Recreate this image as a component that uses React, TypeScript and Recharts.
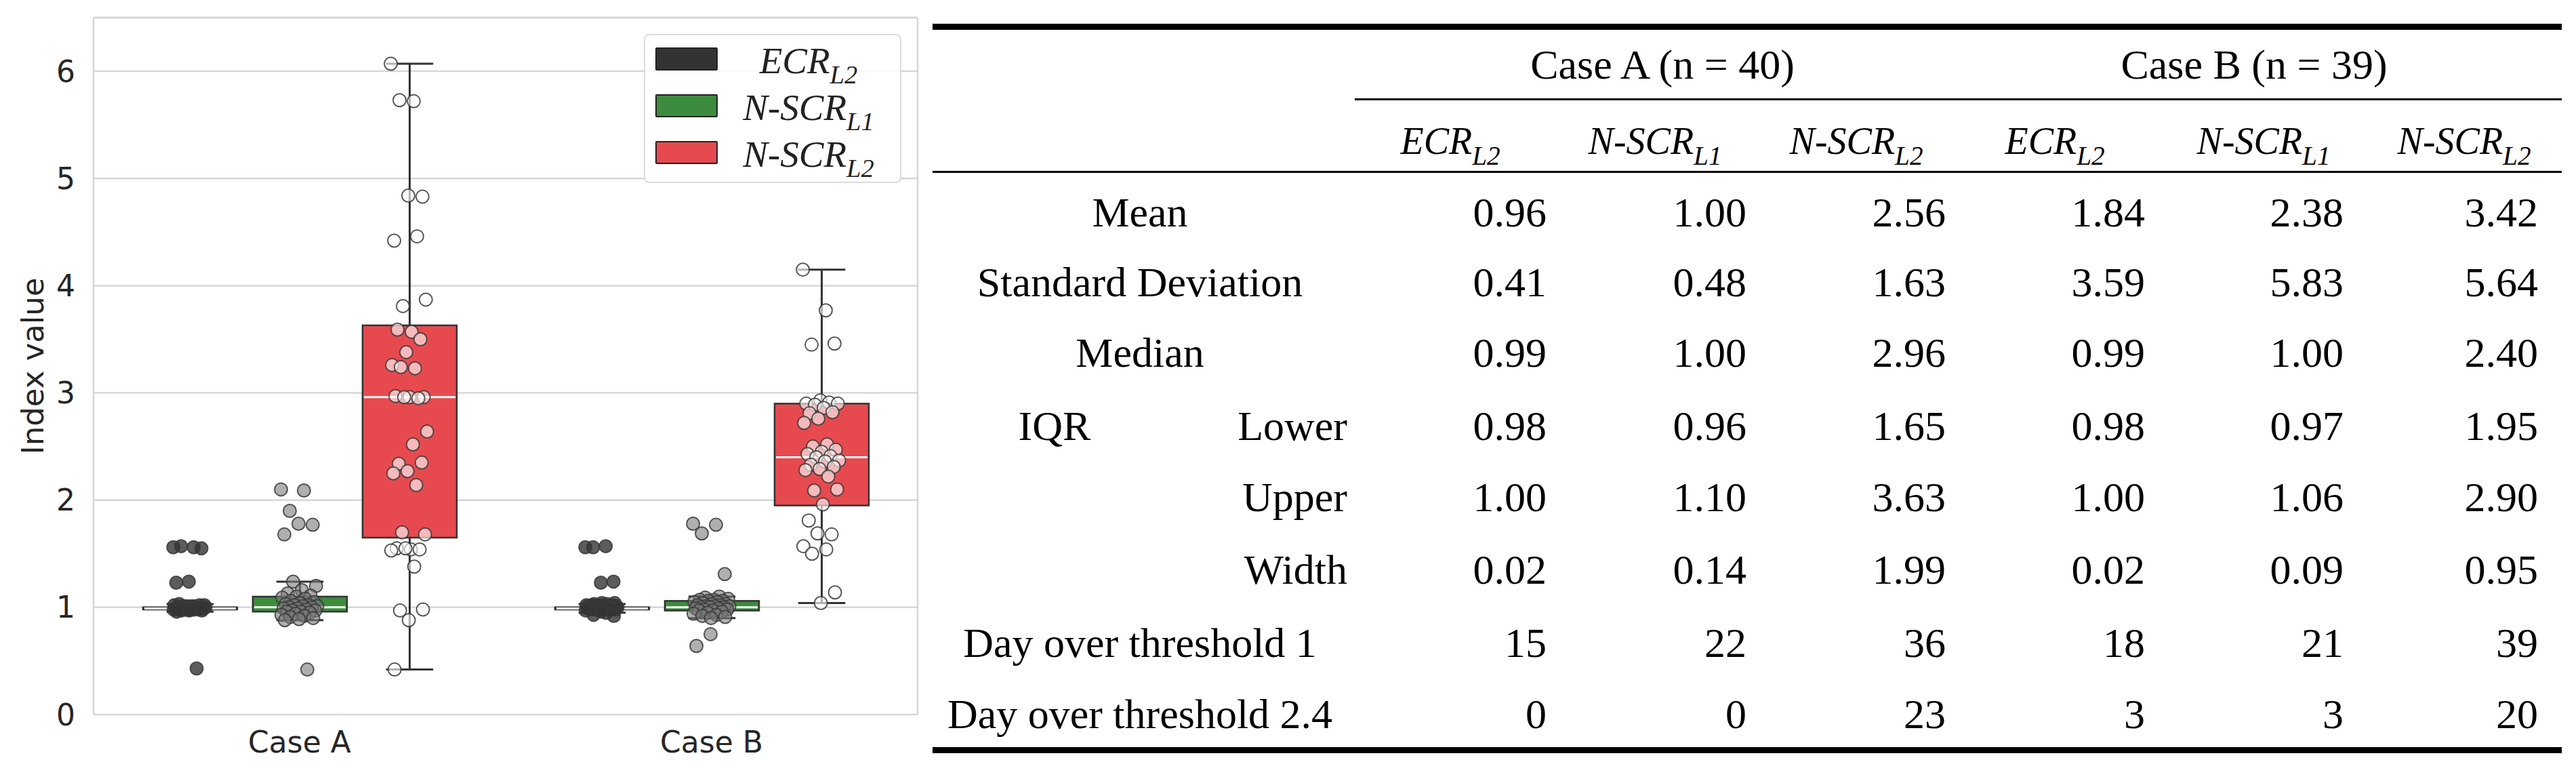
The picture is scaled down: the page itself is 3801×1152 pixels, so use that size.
import React from "react";
import {
  ComposedChart,
  Bar,
  Scatter,
  XAxis,
  YAxis,
  CartesianGrid,
  ReferenceLine,
  Legend,
} from "recharts";

// ---- chart data ----
const CASES = ["Case A", "Case B"];
const SERIES_MAIN = ["ECR", "N-SCR", "N-SCR"];
const SERIES_SUB = ["L2", "L1", "L2"];
const Y_TICKS = [0, 1, 2, 3, 4, 5, 6];

// whisker ends (case x series)
const WHISK_LO = [
  [0.96, 0.88, 0.42],
  [0.95, 0.9, 1.04],
];
const WHISK_HI = [
  [1.03, 1.24, 6.07],
  [1.03, 1.1, 4.15],
];

// daily index values (strip points)
const ECR_A = [
  1.56, 1.56, 1.57, 1.55, 1.24, 1.23, 0.43, 1.01, 1.02, 1.01, 1.03, 1.02, 1.01, 1.02, 1.01, 1.01,
  1.0, 1.0, 1.0, 1.0, 1.0, 1.0, 0.99, 0.99, 0.99, 0.99, 0.99, 0.99, 0.99, 0.99, 0.98, 0.98, 0.98,
  0.98, 0.98, 0.98, 0.97, 0.97, 0.97, 0.96,
];
const NSCR1_A = [
  2.1, 2.09, 1.9, 1.77, 1.78, 1.68, 0.42, 1.24, 1.2, 1.16, 1.13, 1.11, 1.1, 1.09, 1.08, 1.06, 1.05,
  1.04, 1.03, 1.02, 1.02, 1.01, 1.01, 1.0, 1.0, 0.99, 0.99, 0.98, 0.97, 0.97, 0.96, 0.96, 0.95,
  0.94, 0.93, 0.92, 0.91, 0.9, 0.89, 0.88,
];
const NSCR2_A = [
  6.07, 5.72, 5.73, 4.83, 4.84, 4.42, 4.46, 3.81, 3.87, 3.57, 3.59, 3.5, 3.38, 3.26, 3.23, 3.24,
  2.96, 2.96, 2.97, 2.95, 2.96, 2.64, 2.52, 2.34, 2.35, 2.27, 2.25, 2.14, 1.7, 1.68, 1.54, 1.55,
  1.54, 1.55, 1.53, 1.38, 0.97, 0.98, 0.88, 0.42,
];
const ECR_B = [
  1.56, 1.57, 1.56, 1.24, 1.23, 1.01, 1.01, 1.01, 1.01, 1.01, 1.02, 1.02, 1.02, 1.02, 1.03, 1.03,
  1.04, 1.04, 1.0, 1.0, 1.0, 1.0, 1.0, 0.99, 0.99, 0.99, 0.99, 0.99, 0.99, 0.98, 0.98, 0.98, 0.98,
  0.97, 0.97, 0.95, 0.93, 0.92, 0.96,
];
const NSCR1_B = [
  1.78, 1.77, 1.69, 1.31, 0.75, 0.64, 1.1, 1.09, 1.08, 1.07, 1.07, 1.06, 1.06, 1.05, 1.05, 1.04,
  1.03, 1.03, 1.02, 1.02, 1.01, 1.01, 1.01, 1.0, 1.0, 1.0, 0.99, 0.99, 0.98, 0.98, 0.97, 0.97,
  0.96, 0.95, 0.94, 0.93, 0.92, 0.91, 0.9,
];
const NSCR2_B = [
  4.15, 3.77, 3.45, 3.46, 2.93, 2.9, 2.91, 2.89, 2.9, 2.86, 2.81, 2.82, 2.76, 2.72, 2.52, 2.5,
  2.47, 2.45, 2.43, 2.41, 2.4, 2.37, 2.36, 2.33, 2.31, 2.29, 2.28, 2.22, 2.09, 2.1, 1.96, 1.81,
  1.68, 1.69, 1.57, 1.54, 1.5, 1.14, 1.04,
];
const POINTS = [
  [ECR_A, NSCR1_A, NSCR2_A],
  [ECR_B, NSCR1_B, NSCR2_B],
];

// ---- table data (columns: Case A x3, Case B x3) ----
const TABLE_GROUPS = ["Case A (n = 40)", "Case B (n = 39)"];
const MEAN = [0.96, 1.0, 2.56, 1.84, 2.38, 3.42];
const STD_DEV = [0.41, 0.48, 1.63, 3.59, 5.83, 5.64];
const MEDIAN = [0.99, 1.0, 2.96, 0.99, 1.0, 2.4];
const IQR_LOWER = [0.98, 0.96, 1.65, 0.98, 0.97, 1.95];
const IQR_UPPER = [1.0, 1.1, 3.63, 1.0, 1.06, 2.9];
const IQR_WIDTH = [0.02, 0.14, 1.99, 0.02, 0.09, 0.95];
const OVER_1 = [15, 22, 36, 18, 21, 39];
const OVER_24 = [0, 0, 23, 3, 3, 20];

// ---- layout ----
const CHART_W = 1370;
const CHART_H = 1152;
const MARGIN = { top: 26, right: 16, bottom: 0, left: 0 };
const Y_AXIS_W = 138;
const X_AXIS_H = 98;
const BAR_SIZE = 139;
const BAR_GAP = 23;
const BAND_PX = (CHART_W - MARGIN.right - Y_AXIS_W) / CASES.length;
const DODGE = (BAR_SIZE + BAR_GAP) / BAND_PX;
const JITTER = [0.04, 0.045, 0.045];

const BOX_COLORS = ["#333333", "#3d8b3d", "#e64a4f"];
const DOT_FILLS = ["#333333", "#7a7a7a", "#ffffff"];
const DOT_OPACITY = [0.8, 0.6, 0.62];
const GRID = "#d6d6d6";
const INK = "#262626";
const SANS = "'DejaVu Sans', sans-serif";
const SERIF = "'Liberation Serif', serif";

const jitter = (k: number, si: number) => ((((k * 0.618034) % 1) - 0.5) * 2 * JITTER[si]);

const boxData = CASES.map((c, gi) => ({ cat: c, gi }));

const pointData = SERIES_MAIN.map((_, si) =>
  CASES.flatMap((_c, gi) =>
    POINTS[gi][si].map((v, k) => ({
      x: gi + 0.5 + (si - 1) * DODGE + jitter(k, si),
      y: v,
    }))
  )
);

const whiskerRange = (d: any, si: number) =>
  d && typeof d.gi === "number" ? [WHISK_LO[d.gi][si], WHISK_HI[d.gi][si]] : undefined;

function makeBoxShape(si: number) {
  return (props: any) => {
    const { x, y, width, height, payload } = props;
    if (!payload || typeof payload.gi !== "number") return <g />;
    const gi = payload.gi;
    const col = gi * 3 + si;
    const lo = WHISK_LO[gi][si];
    const hi = WHISK_HI[gi][si];
    const top = Math.min(y, y + height);
    const h = Math.abs(height);
    const px = (v: number) => top + (h * (hi - v)) / (hi - lo);
    const cx = x + width / 2;
    const q1 = px(IQR_LOWER[col]);
    const q3 = px(IQR_UPPER[col]);
    const med = px(MEDIAN[col]);
    const cap = width / 4;
    return (
      <g>
        <line x1={cx} x2={cx} y1={px(hi)} y2={q3} stroke="#333" strokeWidth={3} />
        <line x1={cx} x2={cx} y1={q1} y2={px(lo)} stroke="#333" strokeWidth={3} />
        <line x1={cx - cap} x2={cx + cap} y1={px(hi)} y2={px(hi)} stroke="#333" strokeWidth={3} />
        <line x1={cx - cap} x2={cx + cap} y1={px(lo)} y2={px(lo)} stroke="#333" strokeWidth={3} />
        <rect x={x} y={q3} width={width} height={q1 - q3} fill={BOX_COLORS[si]} stroke="#333" strokeWidth={2.5} />
        <line x1={x + 2} x2={x + width - 2} y1={med} y2={med} stroke="#fff" strokeWidth={3} />
      </g>
    );
  };
}

function makeDot(si: number) {
  return (props: any) => (
    <circle
      cx={props.cx}
      cy={props.cy}
      r={9.5}
      fill={DOT_FILLS[si]}
      fillOpacity={DOT_OPACITY[si]}
      stroke="#3a3a3a"
      strokeOpacity={0.85}
      strokeWidth={2}
    />
  );
}

function MathLabel({ main, sub, size }: { main: string; sub: string; size: number }) {
  return (
    <span style={{ fontFamily: SERIF, fontStyle: "italic", fontSize: size, whiteSpace: "nowrap" }}>
      {main}
      <span style={{ fontSize: size * 0.7, position: "relative", top: size * 0.28 }}>{sub}</span>
    </span>
  );
}

function LegendBox() {
  const rowsY = [37, 106, 175];
  return (
    <div
      style={{
        position: "relative",
        width: 380,
        height: 220,
        boxSizing: "border-box",
        border: "2px solid #dcdcdc",
        borderRadius: 8,
        background: "rgba(255,255,255,0.85)",
      }}
    >
      {SERIES_MAIN.map((m, si) => (
        <React.Fragment key={si}>
          <div
            style={{
              position: "absolute",
              left: 15,
              top: rowsY[si] - 17 - 2,
              width: 92,
              height: 34,
              boxSizing: "border-box",
              background: BOX_COLORS[si],
              border: "2px solid #222",
              borderRadius: 2,
            }}
          />
          <div
            style={{
              position: "absolute",
              left: 241,
              top: rowsY[si],
              transform: "translate(-50%, -50%)",
              lineHeight: 1,
              color: "#222",
            }}
          >
            <MathLabel main={m} sub={SERIES_SUB[si]} size={55} />
          </div>
        </React.Fragment>
      ))}
    </div>
  );
}

function BoxStripChart() {
  return (
    <ComposedChart
      width={CHART_W}
      height={CHART_H}
      data={boxData}
      margin={MARGIN}
      barGap={BAR_GAP}
    >
      <CartesianGrid xAxisId="cat" yAxisId="v" vertical={false} stroke={GRID} strokeWidth={2.5} />
      <CartesianGrid
        xAxisId="cat"
        yAxisId="v"
        horizontal={false}
        stroke={GRID}
        strokeWidth={2.5}
        verticalCoordinatesGenerator={({ offset }: any) => [offset.left, offset.left + offset.width]}
      />
      <ReferenceLine xAxisId="cat" yAxisId="v" y={6.5} stroke={GRID} strokeWidth={2.5} />
      <XAxis
        xAxisId="cat"
        dataKey="cat"
        type="category"
        height={X_AXIS_H}
        axisLine={false}
        tickLine={false}
        tickSize={0}
        tickMargin={25}
        tick={{ fontSize: 44, fill: INK, fontFamily: SANS }}
      />
      <XAxis xAxisId="num" dataKey="x" type="number" domain={[0, 2]} allowDataOverflow hide />
      <YAxis
        yAxisId="v"
        dataKey="y"
        type="number"
        domain={[0, 6.5]}
        ticks={Y_TICKS}
        allowDataOverflow
        width={Y_AXIS_W}
        axisLine={false}
        tickLine={false}
        tickSize={0}
        tickMargin={27}
        tick={{ fontSize: 44, fill: INK, fontFamily: SANS }}
        label={{
          content: (p: any) => {
            const vb = p.viewBox || { y: MARGIN.top, height: 1028 };
            const cy = vb.y + vb.height / 2;
            const cx = 64;
            return (
              <text
                x={cx}
                y={cy}
                transform={`rotate(-90 ${cx} ${cy})`}
                textAnchor="middle"
                fontSize={45}
                fill={INK}
                fontFamily={SANS}
              >
                Index value
              </text>
            );
          },
        }}
      />
      {SERIES_MAIN.map((m, si) => (
        <Bar
          key={`box-${si}`}
          xAxisId="cat"
          yAxisId="v"
          name={`${m}${SERIES_SUB[si]}`}
          dataKey={(d: any) => whiskerRange(d, si)}
          barSize={BAR_SIZE}
          fill={BOX_COLORS[si]}
          shape={makeBoxShape(si)}
          isAnimationActive={false}
        />
      ))}
      {SERIES_MAIN.map((m, si) => (
        <Scatter
          key={`pts-${si}`}
          xAxisId="num"
          yAxisId="v"
          data={pointData[si]}
          shape={makeDot(si)}
          legendType="none"
          isAnimationActive={false}
        />
      ))}
      <Legend
        layout="vertical"
        align="center"
        verticalAlign="middle"
        content={<LegendBox />}
        wrapperStyle={{ left: 950, top: 50, width: 380, height: 220 }}
      />
    </ComposedChart>
  );
}

// ---- table ----
const TBL_LEFT = 1376;
const TBL_RIGHT = 3780;
const GROUP_X = [2453, 3326];
const HEAD_X = [2140, 2442, 2739, 3032, 3340, 3636];
const NUM_RIGHT = [2282, 2577, 2871, 3165, 3458, 3745];
const ROW_Y = [313, 416, 520, 628, 733, 840, 948, 1053];
const LABEL_CX = 1682;
const SUBLABEL_RIGHT = 1988;
const IQR_CX = 1556;
const TBL_FONT = 62;

const ROWS = [
  { label: "Mean", values: MEAN, digits: 2 },
  { label: "Standard Deviation", values: STD_DEV, digits: 2 },
  { label: "Median", values: MEDIAN, digits: 2 },
  { group: "IQR", label: "Lower", sub: true, values: IQR_LOWER, digits: 2 },
  { label: "Upper", sub: true, values: IQR_UPPER, digits: 2 },
  { label: "Width", sub: true, values: IQR_WIDTH, digits: 2 },
  { label: "Day over threshold 1", values: OVER_1, digits: 0 },
  { label: "Day over threshold 2.4", values: OVER_24, digits: 0 },
];

function Cell({ x, y, anchor, children, size = TBL_FONT }: any) {
  const tx = anchor === "middle" ? "-50%" : anchor === "end" ? "-100%" : "0";
  return (
    <div
      style={{
        position: "absolute",
        left: x,
        top: y,
        transform: `translate(${tx}, -50%)`,
        whiteSpace: "nowrap",
        lineHeight: 1,
        fontFamily: SERIF,
        fontSize: size,
        color: "#000",
      }}
    >
      {children}
    </div>
  );
}

function Rule({ left, top, h }: { left: number; top: number; h: number }) {
  return (
    <div style={{ position: "absolute", left, top, width: TBL_RIGHT - left, height: h, background: "#000" }} />
  );
}

function StatsTable() {
  return (
    <>
      <Rule left={TBL_LEFT} top={35} h={9} />
      {TABLE_GROUPS.map((g, i) => (
        <Cell key={g} x={GROUP_X[i]} y={95} anchor="middle">
          {g}
        </Cell>
      ))}
      <Rule left={1999} top={145} h={3} />
      {HEAD_X.map((x, c) => (
        <Cell key={`h${c}`} x={x} y={206} anchor="middle">
          <MathLabel main={SERIES_MAIN[c % 3]} sub={SERIES_SUB[c % 3]} size={56} />
        </Cell>
      ))}
      <Rule left={TBL_LEFT} top={252} h={3} />
      {ROWS.map((r, ri) => (
        <React.Fragment key={r.label}>
          {r.group && (
            <Cell x={IQR_CX} y={ROW_Y[ri]} anchor="middle">
              {r.group}
            </Cell>
          )}
          {r.sub ? (
            <Cell x={SUBLABEL_RIGHT} y={ROW_Y[ri]} anchor="end">
              {r.label}
            </Cell>
          ) : (
            <Cell x={LABEL_CX} y={ROW_Y[ri]} anchor="middle">
              {r.label}
            </Cell>
          )}
          {r.values.map((v, c) => (
            <Cell key={c} x={NUM_RIGHT[c]} y={ROW_Y[ri]} anchor="end">
              {v.toFixed(r.digits)}
            </Cell>
          ))}
        </React.Fragment>
      ))}
      <Rule left={TBL_LEFT} top={1102} h={9} />
    </>
  );
}

export default function App() {
  return (
    <div
      style={{
        position: "absolute",
        left: 0,
        top: 0,
        width: 3801,
        height: 1152,
        background: "#fff",
        overflow: "hidden",
      }}
    >
      <div style={{ position: "absolute", left: 0, top: 0 }}>
        <BoxStripChart />
      </div>
      <StatsTable />
    </div>
  );
}
